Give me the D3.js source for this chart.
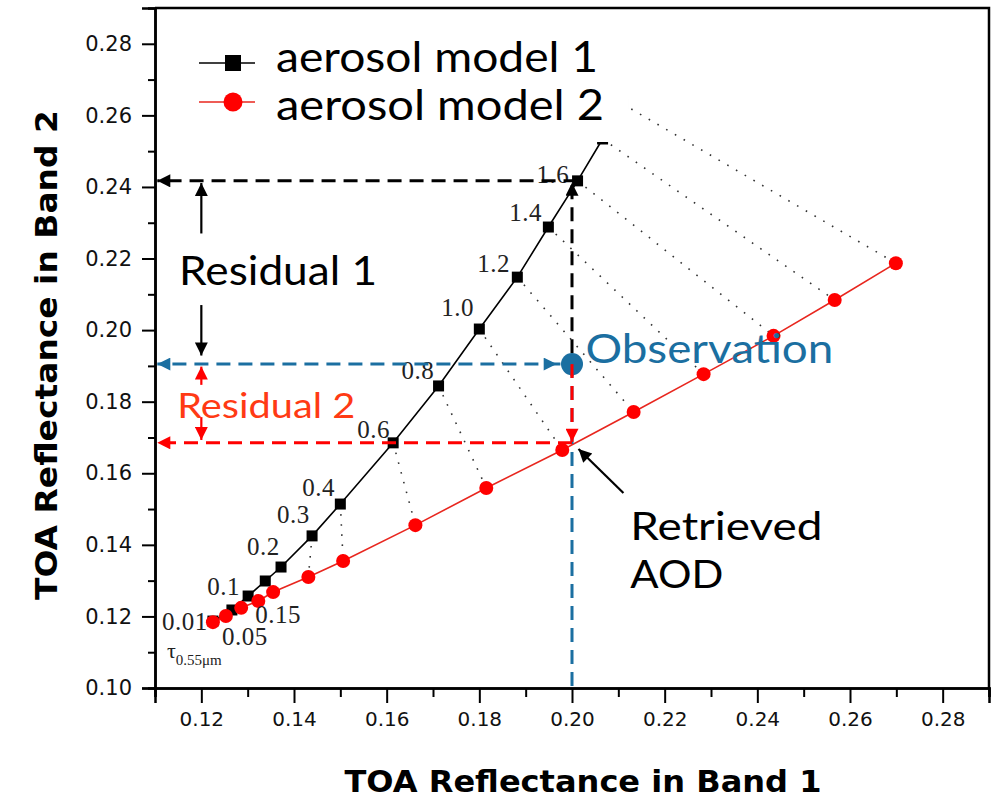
<!DOCTYPE html>
<html><head><meta charset="utf-8">
<script src="https://cdn.jsdelivr.net/npm/d3@7"></script>
<style>body{margin:0;background:#fff} svg{display:block}</style>
</head><body>
<svg id="c" width="1001" height="801"></svg>
<script>
// ---------------- data ----------------
const tauLabels   = ["0.01","0.05","0.1","0.15","0.2","0.3","0.4","0.6","0.8","1.0","1.2","1.4","1.6","1.8","2.0"];
const model1Band1 = [0.1225,0.1266,0.1301,0.1338,0.1372,0.1439,0.1500,0.1614,0.1712,0.1800,0.1882,0.1949,0.2012,0.2066,0.2109];
const model1Band2 = [0.1187,0.1218,0.1257,0.1299,0.1338,0.1425,0.1514,0.1685,0.1844,0.2003,0.2148,0.2288,0.2417,0.2534,0.2632];
const model2Band1 = [0.1225,0.1253,0.1286,0.1323,0.1355,0.1431,0.1506,0.1662,0.1815,0.1979,0.2133,0.2284,0.2435,0.2567,0.2699];
const model2Band2 = [0.1184,0.1201,0.1224,0.1243,0.1268,0.1310,0.1355,0.1455,0.1559,0.1665,0.1771,0.1877,0.1984,0.2084,0.2187];
const seriesNames = ["aerosol model 1","aerosol model 2"];
const xTickValues = [0.12,0.14,0.16,0.18,0.20,0.22,0.24,0.26,0.28];
const yTickValues = [0.10,0.12,0.14,0.16,0.18,0.20,0.22,0.24,0.26,0.28];
const xMinorTicks = [0.11,0.13,0.15,0.17,0.19,0.21,0.23,0.25,0.27,0.29];
const yMinorTicks = [0.11,0.13,0.15,0.17,0.19,0.21,0.23,0.25,0.27];
const observation = {b1:0.20, b2:0.1905};
const retrieved   = {b1:0.20, b2:0.1685};
const xTitle = "TOA Reflectance in Band 1";
const yTitle = "TOA Reflectance in Band 2";

// ---------------- layout ----------------
const plot = {left:155, right:989, top:8, bottom:688};
const labelCount = 13;
const labelOffsets = [[-51,9],[-10,35],[-41,-1],[-10,42],[-34,-12],[-35,-13],[-38,-8],[-36,-5],[-37,-7],[-38,-13],[-40,-5],[-39,-6],[-41,2]];
const blue = "#1b6fa1", red = "#ff0000", resid2 = "#ff3a14";
const gothic = "Lato, 'DejaVu Sans', sans-serif";

const svg = d3.select("#c");
const x = d3.scaleLinear().domain([0.11,0.29]).range([plot.left, plot.right]);
const y = d3.scaleLinear().domain([0.10,0.29]).range([plot.bottom, plot.top]);

// markers
const defs = svg.append("defs");
function arrow(id, color, len, wid){
  defs.append("marker").attr("id",id).attr("viewBox","0 0 10 10")
    .attr("refX",10).attr("refY",5).attr("markerUnits","userSpaceOnUse")
    .attr("markerWidth",len).attr("markerHeight",wid).attr("orient","auto")
    .append("path").attr("d","M0,0 L10,5 L0,10 z").attr("fill",color);
}
arrow("aBlack","#000",15,13);
arrow("aBlue",blue,15,13);
arrow("aRed",red,14,13);
arrow("aSmallRed",red,13,13);

// axes
const axisG = svg.append("g");
const xAx = axisG.append("g").attr("transform",`translate(0,${plot.bottom})`)
  .call(d3.axisBottom(x).tickValues(xTickValues).tickSize(15).tickPadding(9).tickFormat(d3.format(".2f")));
axisG.append("g").attr("transform",`translate(0,${plot.bottom})`)
  .call(d3.axisBottom(x).tickValues(xMinorTicks).tickSize(9).tickFormat(""));
const yAx = axisG.append("g").attr("transform",`translate(${plot.left},0)`)
  .call(d3.axisLeft(y).tickValues(yTickValues).tickSize(13).tickPadding(10).tickFormat(d3.format(".2f")));
axisG.append("g").attr("transform",`translate(${plot.left},0)`)
  .call(d3.axisLeft(y).tickValues(yMinorTicks).tickSize(7).tickFormat(""));
axisG.selectAll(".domain").attr("stroke","#000").attr("stroke-width",2.5);
axisG.selectAll(".tick line").attr("stroke","#000").attr("stroke-width",2);
xAx.selectAll("text").attr("font-family","'DejaVu Sans', sans-serif").attr("font-size",20).attr("fill","#111");
yAx.selectAll("text").attr("font-family","'DejaVu Sans', sans-serif").attr("font-size",21).attr("fill","#111");
// frame
svg.append("path").attr("d",`M${plot.left},${plot.top} H${plot.right} V${plot.bottom}`)
  .attr("fill","none").attr("stroke","#000").attr("stroke-width",2.5);

// axis titles
svg.append("text").attr("x",(x(0.11)+x(0.29))/2+11).attr("y",792).attr("text-anchor","middle")
  .attr("font-family","'DejaVu Sans', sans-serif").attr("font-weight","bold").attr("font-size",30)
  .attr("textLength",477).attr("lengthAdjust","spacingAndGlyphs").text(xTitle);
svg.append("text").attr("transform",`translate(57,355) rotate(-90)`).attr("text-anchor","middle")
  .attr("font-family","'DejaVu Sans', sans-serif").attr("font-weight","bold").attr("font-size",31)
  .attr("textLength",490).attr("lengthAdjust","spacingAndGlyphs").text(yTitle);

const m1 = model1Band1.map((v,i)=>({b1:v,b2:model1Band2[i],tau:tauLabels[i],i}));
const m2 = model2Band1.map((v,i)=>({b1:v,b2:model2Band2[i],tau:tauLabels[i],i}));

// dotted connectors
svg.append("g").selectAll("line").data(m1.filter(d=>d.i>=5)).join("line")
  .attr("x1",d=>x(d.b1)).attr("y1",d=>y(d.b2))
  .attr("x2",d=>x(m2[d.i].b1)).attr("y2",d=>y(m2[d.i].b2))
  .attr("stroke","#333").attr("stroke-width",1.6).attr("stroke-dasharray","1.6,8.5");

const line = d3.line().x(d=>x(d.b1)).y(d=>y(d.b2));
svg.append("path").datum(m2).attr("d",line).attr("fill","none").attr("stroke","#e8261e").attr("stroke-width",1.6);
svg.append("path").datum(m1).attr("d",line).attr("fill","none").attr("stroke","#000").attr("stroke-width",1.6);
svg.append("g").selectAll("rect").data(m1).join("rect")
  .attr("x",d=>x(d.b1)-5.5).attr("y",d=>y(d.b2)-5.5).attr("width",11).attr("height",11).attr("fill","#000");
svg.append("g").selectAll("circle").data(m2).join("circle")
  .attr("cx",d=>x(d.b1)).attr("cy",d=>y(d.b2)).attr("r",7).attr("fill",red);

// tau labels
svg.append("g").selectAll("text").data(m1.slice(0,labelCount)).join("text")
  .attr("x",d=>x(d.b1)+labelOffsets[d.i][0]).attr("y",d=>y(d.b2)+labelOffsets[d.i][1])
  .attr("font-family","'Liberation Serif', 'Times New Roman', serif").attr("font-size",25)
  .attr("letter-spacing",0.5).attr("fill","#222").text(d=>d.tau);
const t0 = m1[0];
const tauT = svg.append("text").attr("x",x(t0.b1)-46).attr("y",y(t0.b2)+37)
  .attr("font-family","'Liberation Serif', serif").attr("font-size",22).attr("fill","#222");
tauT.append("tspan").text("τ");
tauT.append("tspan").attr("font-size",15).attr("dy",7).text("0.55μm");

// legend (white box hides end of model 1 curve)
const lg = svg.append("g");
lg.append("rect").attr("x",175).attr("y",14).attr("width",453).attr("height",128).attr("fill","#fff");
[0,1].forEach(k=>{
  const yy = k===0 ? 63 : 102;
  lg.append("line").attr("x1",199).attr("x2",255).attr("y1",yy).attr("y2",yy)
    .attr("stroke",k===0?"#000":"#e8261e").attr("stroke-width",1.6);
  if(k===0) lg.append("rect").attr("x",225).attr("y",yy-8).attr("width",16).attr("height",16).attr("fill","#000");
  else lg.append("circle").attr("cx",233).attr("cy",yy).attr("r",9.5).attr("fill",red);
  lg.append("text").attr("x",276).attr("y",k===0?72:120).attr("font-family",gothic).attr("font-size",42)
    .attr("textLength",k===0?322:328).attr("lengthAdjust","spacingAndGlyphs").attr("fill","#000").text(seriesNames[k]);
});

// annotations
const ann = svg.append("g");
const leftTip = 0.1105;
const p16 = m1[12];
function dashed(x1,y1,x2,y2,color,mk){
  const l = ann.append("line").attr("x1",x(x1)).attr("y1",y(y1)).attr("x2",x(x2)).attr("y2",y(y2))
    .attr("stroke",color).attr("stroke-width",3).attr("stroke-dasharray","14,8");
  if(mk) l.attr("marker-end",`url(#${mk})`);
  return l;
}
dashed(observation.b1, observation.b2, observation.b1, 0.10, blue, null);
dashed(p16.b1, p16.b2, leftTip, p16.b2, "#000", "aBlack");
dashed(observation.b1, observation.b2+0.003, observation.b1, p16.b2-0.0005, "#000", "aBlack");
dashed(observation.b1-0.0025, observation.b2, leftTip, observation.b2, blue, "aBlue");
dashed(0.16, observation.b2, observation.b1-0.0033, observation.b2, blue, "aBlue").attr("stroke-dasharray","0,1000");
dashed(retrieved.b1, retrieved.b2, leftTip, retrieved.b2, red, "aRed");
dashed(observation.b1, observation.b2, observation.b1, retrieved.b2+0.0003, red, "aRed");
ann.append("circle").attr("cx",x(observation.b1)).attr("cy",y(observation.b2)).attr("r",11).attr("fill",blue);
ann.append("line").attr("x1",x(observation.b1)).attr("x2",x(observation.b1))
  .attr("y1",y(observation.b2)).attr("y2",y(observation.b2)+12).attr("stroke",red).attr("stroke-width",3);

function solid(x1,y1,x2,y2,color,mk,w){
  ann.append("line").attr("x1",x(x1)).attr("y1",y(y1)).attr("x2",x(x2)).attr("y2",y(y2))
    .attr("stroke",color).attr("stroke-width",w||2.2).attr("marker-end",`url(#${mk})`);
}
solid(0.12,0.2270,0.12,0.2411,"#000","aBlack");
solid(0.12,0.2070,0.12,0.1929,"#000","aBlack");
solid(0.12,0.1847,0.12,0.1898,red,"aSmallRed");
solid(0.12,0.1757,0.12,0.1693,red,"aSmallRed");
solid(0.2111,0.1545,0.2014,0.1668,"#000","aBlack",2.2);

function label(txt,bx,by,size,len,color){
  ann.append("text").attr("x",x(bx)).attr("y",y(by)).attr("font-family",gothic).attr("font-size",size)
    .attr("textLength",len).attr("lengthAdjust","spacingAndGlyphs").attr("fill",color).text(txt);
}
label("Residual 1",0.1152,0.2126,40,198,"#000");
label("Residual 2",0.1148,0.1754,34,178,resid2);
label("Observation",0.2029,0.1908,41,248,blue);
label("Retrieved",0.2126,0.1414,39,192,"#000");
label("AOD",0.2126,0.1279,39,93,"#000");
</script>
</body></html>
